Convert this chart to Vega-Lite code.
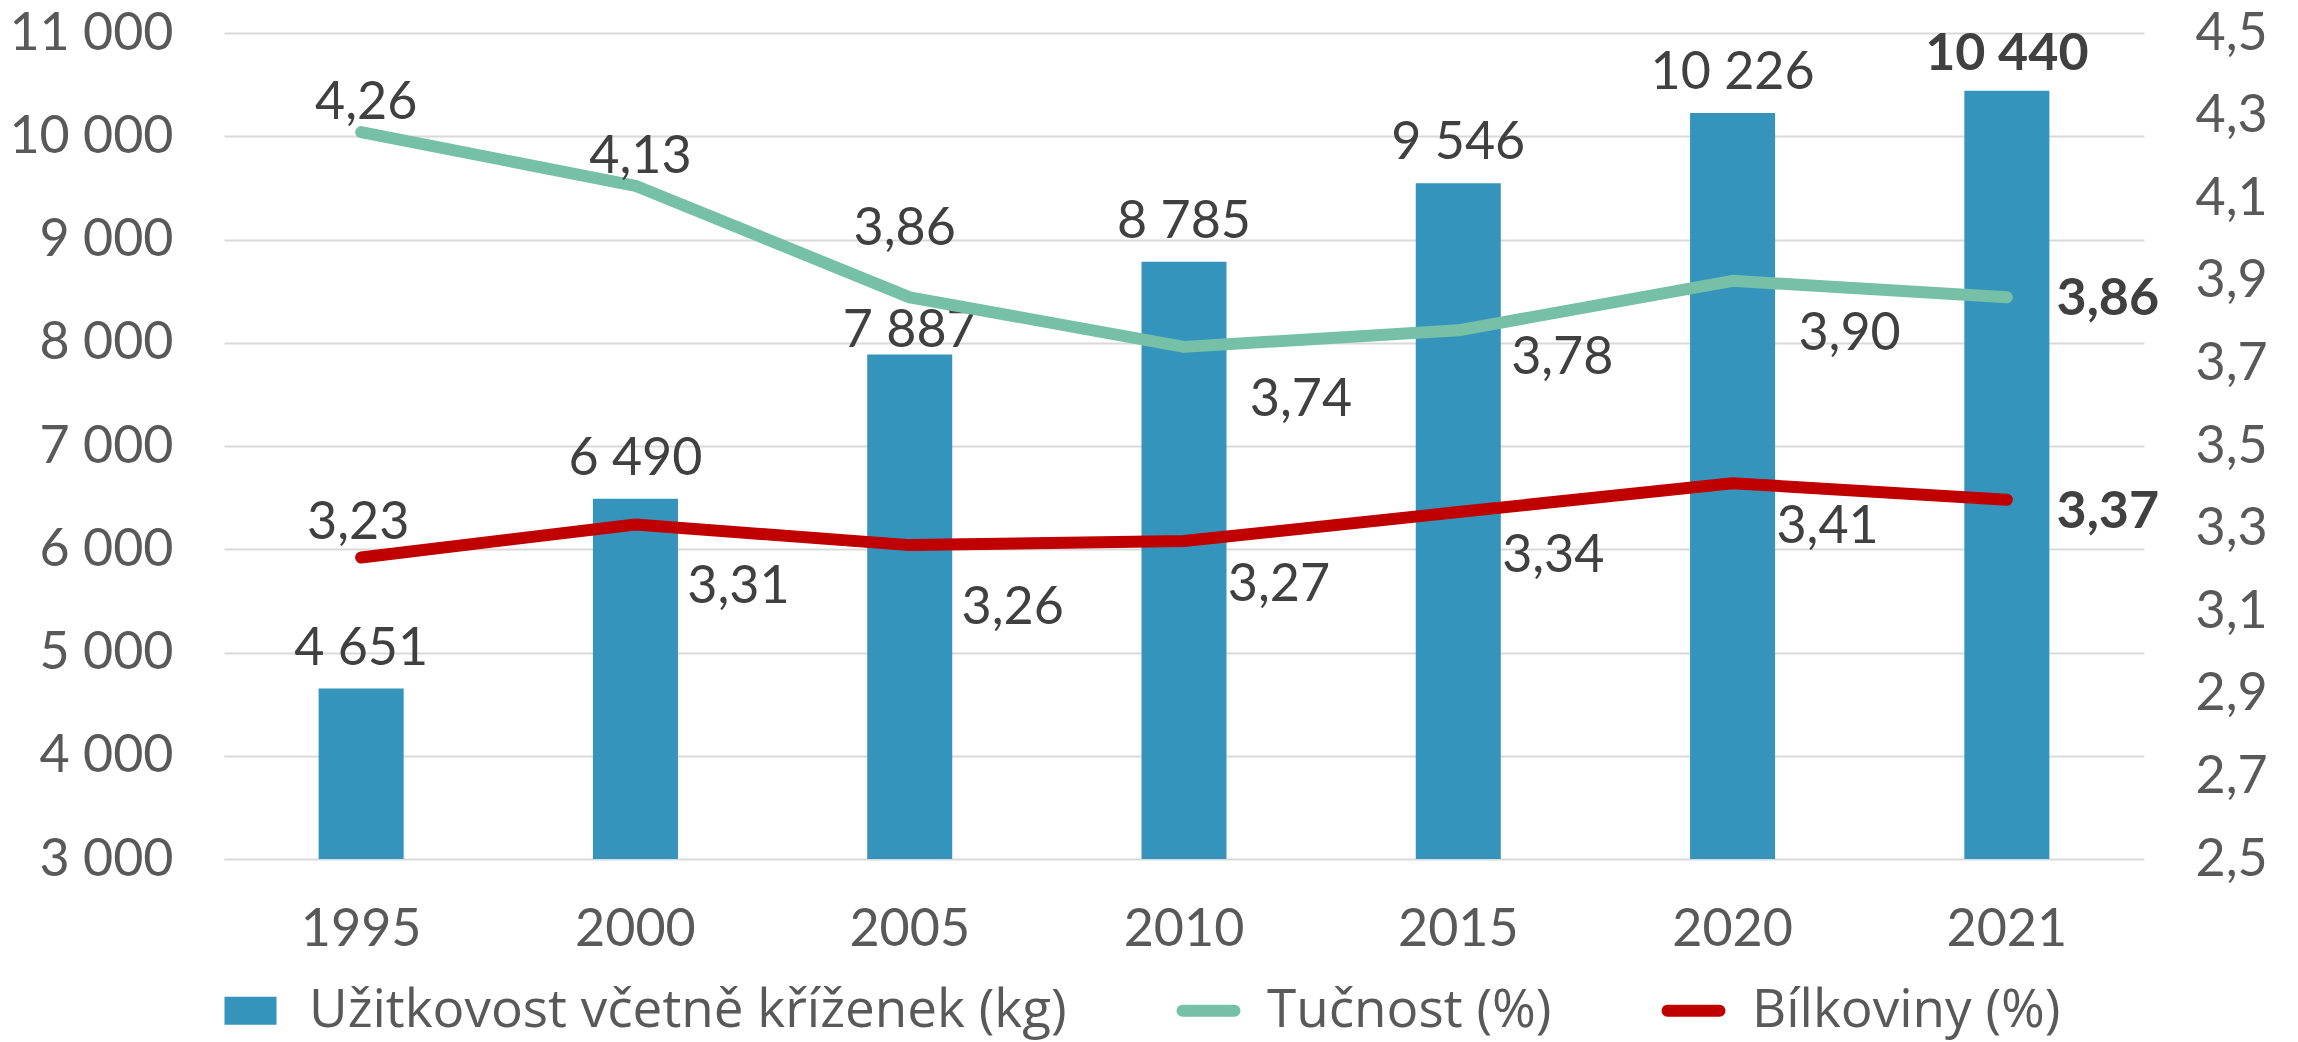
{
  "$schema": "https://vega.github.io/schema/vega-lite/v6.json",
  "width": 1920,
  "height": 826,
  "autosize": {"type": "none"},
  "padding": {"left": 224, "top": 33, "right": 154, "bottom": 183},
  "background": "white",
  "config": {
    "locale": {"number": {"decimal": ",", "thousands": " ", "grouping": [3], "currency": ["", " Kč"]}},
    "font": "Lato",
    "view": {"stroke": null},
    "axis": {"labelFont": "Lato", "labelFontSize": 52, "labelColor": "#595959", "domain": false, "ticks": false},
    "legend": {"labelFont": "Open Sans", "labelFontSize": 53, "labelColor": "#595959", "padding": 0, "labelLimit": 2000}
  },
  "datasets": {
    "bars": [
      {"year": "1995", "value": 4651},
      {"year": "2000", "value": 6490},
      {"year": "2005", "value": 7887},
      {"year": "2010", "value": 8785},
      {"year": "2015", "value": 9546},
      {"year": "2020", "value": 10226},
      {"year": "2021", "value": 10440}
    ],
    "lines": [
      {"year": "1995", "series": "Tučnost (%)", "value": 4.26},
      {"year": "2000", "series": "Tučnost (%)", "value": 4.13},
      {"year": "2005", "series": "Tučnost (%)", "value": 3.86},
      {"year": "2010", "series": "Tučnost (%)", "value": 3.74},
      {"year": "2015", "series": "Tučnost (%)", "value": 3.78},
      {"year": "2020", "series": "Tučnost (%)", "value": 3.90},
      {"year": "2021", "series": "Tučnost (%)", "value": 3.86},
      {"year": "1995", "series": "Bílkoviny (%)", "value": 3.23},
      {"year": "2000", "series": "Bílkoviny (%)", "value": 3.31},
      {"year": "2005", "series": "Bílkoviny (%)", "value": 3.26},
      {"year": "2010", "series": "Bílkoviny (%)", "value": 3.27},
      {"year": "2015", "series": "Bílkoviny (%)", "value": 3.34},
      {"year": "2020", "series": "Bílkoviny (%)", "value": 3.41},
      {"year": "2021", "series": "Bílkoviny (%)", "value": 3.37}
    ]
  },
  "layer": [
    {
      "data": {"name": "bars"},
      "encoding": {
        "x": {
          "field": "year", "type": "nominal",
          "scale": {"type": "band", "paddingInner": 0.69, "paddingOuter": 0.345},
          "axis": {"title": null, "labelAngle": 0, "labelPadding": 45, "grid": false}
        },
        "y": {
          "field": "value", "type": "quantitative",
          "scale": {"domain": [3000, 11000], "nice": false, "zero": false},
          "axis": {"title": null, "orient": "left", "values": [3000, 4000, 5000, 6000, 7000, 8000, 9000, 10000, 11000], "format": ",d", "labelPadding": 51, "grid": true, "gridColor": "#D9D9D9", "gridWidth": 2}
        }
      },
      "layer": [
        {
          "mark": {"type": "bar", "clip": true},
          "encoding": {
            "color": {
              "datum": "Užitkovost včetně kříženek (kg)", "type": "nominal", "title": null,
              "scale": {"domain": ["Užitkovost včetně kříženek (kg)", "Tučnost (%)", "Bílkoviny (%)"], "range": ["#3594BB", "#76C0A8", "#C00000"]},
              "legend": {
                "title": null, "orient": "none", "legendX": 0, "legendY": 951, "direction": "horizontal",
                "symbolSize": 4096, "labelOffset": 32, "columnPadding": 91, "labelLimit": 2000,
                "encode": {
                  "symbols": {
                    "update": {
                      "shape": {"signal": "datum.value === 'Užitkovost včetně kříženek (kg)' ? 'M-0.8125,-0.4375H0.8125V0.4375H-0.8125Z' : 'stroke'"},
                      "size": {"signal": "datum.value === 'Užitkovost včetně kříženek (kg)' ? 4096 : 2704"},
                      "fill": {"scale": "color", "field": "value"},
                      "stroke": {"scale": "color", "field": "value"},
                      "strokeWidth": {"signal": "datum.value === 'Užitkovost včetně kříženek (kg)' ? 0 : 12"},
                      "strokeCap": {"value": "round"},
                      "fillOpacity": {"value": 1},
                      "opacity": {"value": 1}
                    }
                  }
                }
              }
            }
          }
        },
        {
          "transform": [{"filter": "datum.year != '2005' && datum.year != '2021'"}],
          "mark": {"type": "text", "fontSize": 52, "font": "Lato", "color": "#404040", "align": "center", "baseline": "alphabetic", "dy": -24},
          "encoding": {"text": {"field": "value", "type": "quantitative", "format": ",d"}}
        },
        {
          "transform": [{"filter": "datum.year == '2005'"}],
          "mark": {"type": "text", "fontSize": 52, "font": "Lato", "color": "#404040", "align": "center", "baseline": "alphabetic", "dy": -7},
          "encoding": {"text": {"field": "value", "type": "quantitative", "format": ",d"}}
        },
        {
          "transform": [{"filter": "datum.year == '2021'"}],
          "mark": {"type": "text", "fontSize": 52, "font": "Lato", "fontWeight": "bold", "color": "#404040", "align": "center", "baseline": "alphabetic", "dy": -21},
          "encoding": {"text": {"field": "value", "type": "quantitative", "format": ",d"}}
        }
      ]
    },
    {
      "data": {"name": "lines"},
      "encoding": {
        "x": {"field": "year", "type": "nominal"},
        "y": {
          "field": "value", "type": "quantitative",
          "scale": {"domain": [2.5, 4.5], "nice": false, "zero": false},
          "axis": {"title": null, "orient": "right", "values": [2.5, 2.7, 2.9, 3.1, 3.3, 3.5, 3.7, 3.9, 4.1, 4.3, 4.5], "format": ".1f", "labelPadding": 51, "grid": false}
        }
      },
      "layer": [
        {
          "mark": {"type": "line", "strokeWidth": 12, "strokeCap": "round", "strokeJoin": "round"},
          "encoding": {"color": {"field": "series", "type": "nominal", "title": null}}
        },
        {
          "transform": [{"filter": "datum.series == 'Tučnost (%)' && (datum.year == '1995' || datum.year == '2000')"}],
          "mark": {"type": "text", "fontSize": 52, "font": "Lato", "color": "#404040", "align": "center", "baseline": "alphabetic", "dx": 5, "dy": -13},
          "encoding": {"text": {"field": "value", "type": "quantitative", "format": ".2f"}}
        },
        {
          "transform": [{"filter": "datum.series == 'Tučnost (%)' && datum.year == '2005'"}],
          "mark": {"type": "text", "fontSize": 52, "font": "Lato", "color": "#404040", "align": "center", "baseline": "alphabetic", "dx": -5, "dy": -52},
          "encoding": {"text": {"field": "value", "type": "quantitative", "format": ".2f"}}
        },
        {
          "transform": [{"filter": "datum.series == 'Tučnost (%)' && (datum.year == '2010' || datum.year == '2020')"}],
          "mark": {"type": "text", "fontSize": 52, "font": "Lato", "color": "#404040", "align": "center", "baseline": "alphabetic", "dx": 117, "dy": 69},
          "encoding": {"text": {"field": "value", "type": "quantitative", "format": ".2f"}}
        },
        {
          "transform": [{"filter": "datum.series == 'Tučnost (%)' && datum.year == '2015'"}],
          "mark": {"type": "text", "fontSize": 52, "font": "Lato", "color": "#404040", "align": "center", "baseline": "alphabetic", "dx": 104, "dy": 44},
          "encoding": {"text": {"field": "value", "type": "quantitative", "format": ".2f"}}
        },
        {
          "transform": [{"filter": "datum.series == 'Tučnost (%)' && datum.year == '2021'"}],
          "mark": {"type": "text", "fontSize": 52, "font": "Lato", "fontWeight": "bold", "color": "#404040", "align": "center", "baseline": "alphabetic", "dx": 101, "dy": 18},
          "encoding": {"text": {"field": "value", "type": "quantitative", "format": ".2f"}}
        },
        {
          "transform": [{"filter": "datum.series == 'Bílkoviny (%)' && datum.year == '1995'"}],
          "mark": {"type": "text", "fontSize": 52, "font": "Lato", "color": "#404040", "align": "center", "baseline": "alphabetic", "dx": -3, "dy": -19},
          "encoding": {"text": {"field": "value", "type": "quantitative", "format": ".2f"}}
        },
        {
          "transform": [{"filter": "datum.series == 'Bílkoviny (%)' && (datum.year == '2000' || datum.year == '2005')"}],
          "mark": {"type": "text", "fontSize": 52, "font": "Lato", "color": "#404040", "align": "center", "baseline": "alphabetic", "dx": 103, "dy": 79},
          "encoding": {"text": {"field": "value", "type": "quantitative", "format": ".2f"}}
        },
        {
          "transform": [{"filter": "datum.series == 'Bílkoviny (%)' && (datum.year == '2010' || datum.year == '2015' || datum.year == '2020')"}],
          "mark": {"type": "text", "fontSize": 52, "font": "Lato", "color": "#404040", "align": "center", "baseline": "alphabetic", "dx": 95, "dy": 60},
          "encoding": {"text": {"field": "value", "type": "quantitative", "format": ".2f"}}
        },
        {
          "transform": [{"filter": "datum.series == 'Bílkoviny (%)' && datum.year == '2021'"}],
          "mark": {"type": "text", "fontSize": 52, "font": "Lato", "fontWeight": "bold", "color": "#404040", "align": "center", "baseline": "alphabetic", "dx": 101, "dy": 28},
          "encoding": {"text": {"field": "value", "type": "quantitative", "format": ".2f"}}
        }
      ]
    }
  ],
  "resolve": {"scale": {"y": "independent"}}
}
